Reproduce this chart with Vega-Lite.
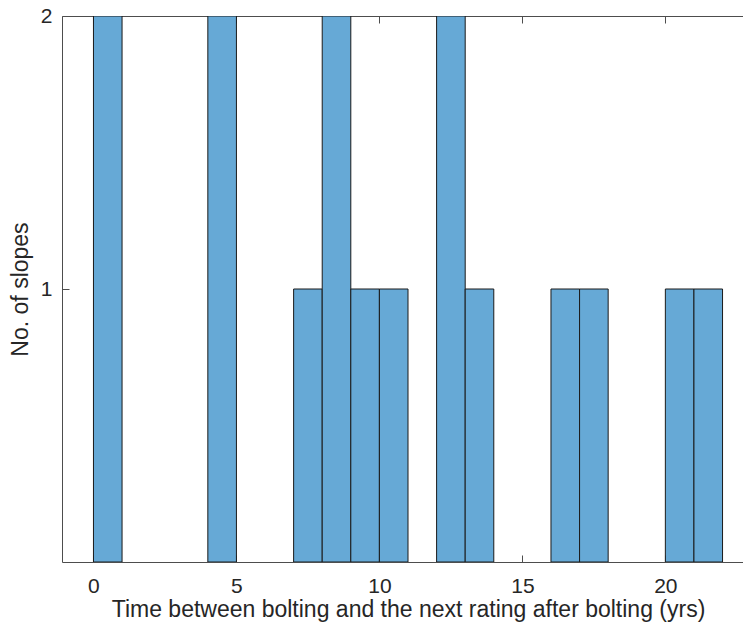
{
  "$schema": "https://vega.github.io/schema/vega-lite/v6.json",
  "autosize": "none",
  "width": 692,
  "height": 546,
  "padding": {"left": 62, "top": 16, "right": 0, "bottom": 67},
  "background": "white",
  "config": {
    "view": {"stroke": null},
    "font": "Liberation Sans",
    "axis": {
      "domainColor": "#4d4d4d",
      "domainWidth": 1,
      "tickColor": "#4d4d4d",
      "tickWidth": 1,
      "tickSize": -7,
      "grid": false,
      "labelColor": "#262626",
      "labelFont": "Liberation Sans",
      "titleColor": "#262626",
      "titleFont": "Liberation Sans",
      "titleFontSize": 23,
      "titleFontWeight": "normal"
    }
  },
  "data": {
    "values": [
      {"start": 0, "end": 1, "count": 2},
      {"start": 4, "end": 5, "count": 2},
      {"start": 7, "end": 8, "count": 1},
      {"start": 8, "end": 9, "count": 2},
      {"start": 9, "end": 10, "count": 1},
      {"start": 10, "end": 11, "count": 1},
      {"start": 12, "end": 13, "count": 2},
      {"start": 13, "end": 14, "count": 1},
      {"start": 16, "end": 17, "count": 1},
      {"start": 17, "end": 18, "count": 1},
      {"start": 20, "end": 21, "count": 1},
      {"start": 21, "end": 22, "count": 1}
    ]
  },
  "layer": [
    {
      "mark": {"type": "bar", "fill": "#66A9D6", "stroke": "#1a1a1a", "strokeWidth": 1, "clip": true},
      "encoding": {
        "x": {
          "field": "start",
          "type": "quantitative",
          "scale": {"domain": [-1.1, 23.1], "nice": false, "zero": false},
          "axis": {
            "values": [0, 5, 10, 15, 20],
            "labelFontSize": 21,
            "title": "Time between bolting and the next rating after bolting (yrs)",
            "labelPadding": 20,
            "titlePadding": 2
          }
        },
        "x2": {"field": "end"},
        "y": {
          "field": "count",
          "type": "quantitative",
          "scale": {"domain": [0, 2], "nice": false},
          "axis": {
            "values": [1, 2],
            "format": "d",
            "labelFontSize": 21,
            "title": "No. of slopes",
            "labelPadding": 17,
            "titlePadding": 8
          }
        },
        "y2": {"datum": 0}
      }
    },
    {
      "mark": {"type": "rule", "opacity": 0},
      "encoding": {
        "x": {
          "datum": 0,
          "type": "quantitative",
          "axis": {"orient": "top", "values": [0, 5, 10, 15, 20], "labels": false, "title": null}
        }
      }
    }
  ],
  "resolve": {"axis": {"x": "independent"}}
}
